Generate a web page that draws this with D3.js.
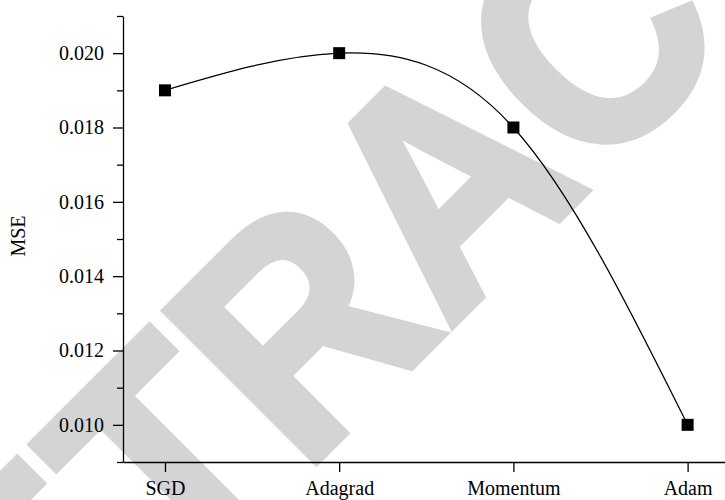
<!DOCTYPE html>
<html>
<head>
<meta charset="utf-8">
<script src="https://cdn.jsdelivr.net/npm/d3@7/dist/d3.min.js"></script>
<style>
  html, body { margin: 0; padding: 0; background: #fff; }
  svg { display: block; }
  .axis text { font-family: "Liberation Serif", "Times New Roman", serif; font-size: 20px; fill: #000; }
  .axis path, .axis line { stroke: #000; stroke-width: 1.3px; }
</style>
</head>
<body>
<svg id="chart" width="725" height="500"></svg>
<script>
// Optimizer comparison: mean squared error per optimizer
const optimizers = ["SGD", "Adagrad", "Momentum", "Adam"];
const mseValues = [0.019, 0.020, 0.018, 0.010];
const majorTicks = [0.010, 0.012, 0.014, 0.016, 0.018, 0.020];
const minorTicks = [0.009, 0.011, 0.013, 0.015, 0.017, 0.019, 0.021];
const stampText = "RETRACTED";

const svg = d3.select("#chart");

const x = d3.scalePoint().domain(optimizers).range([123, 729.6]).padding(0.241);
const y = d3.scaleLinear().domain([0.009, 0.021]).range([462, 16]);

// Grey diagonal stamp across the plot
svg.append("text")
  .attr("transform", "translate(520,258) rotate(-45) scale(0.915,1)")
  .attr("text-anchor", "middle")
  .attr("font-family", "'Liberation Sans', Arial, sans-serif")
  .attr("font-weight", "bold")
  .attr("font-size", 310)
  .attr("fill", "#d4d4d4")
  .attr("stroke", "#d4d4d4")
  .attr("stroke-width", 8)
  .attr("stroke-linejoin", "miter")
  .text(stampText);

// Y axis: minor ticks, then labelled major ticks
svg.append("g").attr("class", "axis")
  .attr("transform", "translate(123,0)")
  .call(d3.axisLeft(y).tickValues(minorTicks).tickSize(6).tickSizeOuter(0).tickFormat(""))
  .call(g => g.select(".domain").remove());

svg.append("g").attr("class", "axis")
  .attr("transform", "translate(123,0)")
  .call(d3.axisLeft(y).tickValues(majorTicks).tickSize(10).tickSizeOuter(0).tickPadding(9)
    .tickFormat(d3.format(".3f")));

// X axis
svg.append("g").attr("class", "axis")
  .attr("transform", "translate(0,462)")
  .call(d3.axisBottom(x).tickSize(10).tickSizeOuter(0).tickPadding(9))
  .call(g => g.selectAll("text").attr("dy", "0.71em"));

// Y axis title
svg.append("text")
  .attr("transform", "translate(25,236) rotate(-90)")
  .attr("text-anchor", "middle")
  .attr("font-family", "'Liberation Serif', 'Times New Roman', serif")
  .attr("font-size", 20)
  .text("MSE");

// Smooth curve through the points
const pts = optimizers.map((k, i) => ({ k, v: mseValues[i] }));
svg.append("path")
  .datum(pts)
  .attr("fill", "none")
  .attr("stroke", "#000")
  .attr("stroke-width", 1.2)
  .attr("d", d3.line().x(d => x(d.k)).y(d => y(d.v)).curve(d3.curveNatural));

// Square markers
const s = 12;
svg.append("g").selectAll("rect")
  .data(pts)
  .join("rect")
  .attr("x", d => x(d.k) - s / 2)
  .attr("y", d => y(d.v) - s / 2)
  .attr("width", s)
  .attr("height", s)
  .attr("fill", "#000");
</script>
</body>
</html>
